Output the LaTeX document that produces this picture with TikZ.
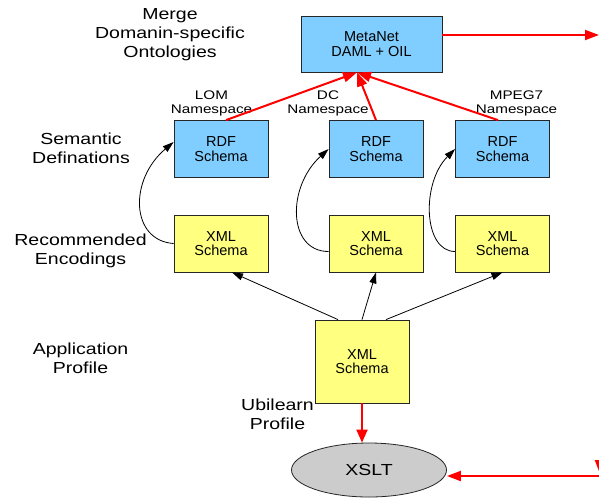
\documentclass[tikz,border=0pt]{standalone}
\usepackage{fontspec}
\setmainfont{Liberation Sans}
\newfontfamily\widefont[FakeStretch=1.22]{Liberation Sans}
\usetikzlibrary{arrows.meta,shapes.geometric}

\begin{document}
\begin{tikzpicture}[x=1pt, y=-1pt,
    box/.style={draw=black!85, line width=0.8pt, minimum width=94pt, minimum height=57pt,
      inner sep=0pt, align=center, font=\fontsize{14.5}{14.5}\selectfont},
    rdfbox/.style={box, fill=rdfblue},
    xmlbox/.style={box, fill=xmlyellow},
    lbl/.style={align=center, font=\widefont\fontsize{16}{19}\selectfont},
    nslbl/.style={align=center, font=\widefont\fontsize{12.5}{14}\selectfont},
    redarrow/.style={red, line width=2pt, -{Triangle[length=14pt,width=10pt]}},
    blkarrow/.style={black, line width=0.8pt, -{Triangle[length=11pt,width=7pt]}}]

      \definecolor{rdfblue}{RGB}{128,206,255}
      \definecolor{xmlyellow}{RGB}{255,255,128}
      \definecolor{xsltgray}{RGB}{204,204,204}

  \fill[white] (0,0) rectangle (599,499);
  \clip (0,0) rectangle (599,499);

  % layer names on the left
  \node[lbl] (merge) at (170,35) {Merge\\Domanin-specific\\Ontologies};
  \node[lbl] (semantic) at (81,148) {Semantic\\Definations};
  \node[lbl] (encodings) at (80.5,251) {Recommended\\Encodings};
  \node[lbl] (appprofile) at (80.5,358) {Application\\Profile};
  \node[lbl] (ubilearn) at (277.5,414) {Ubilearn\\Profile};

  % boxes
  \node[box, fill=rdfblue, minimum width=141pt, minimum height=56pt] (meta) at (371.5,44) {MetaNet\\DAML + OIL};
  \node[rdfbox] (rdf1) at (221,149) {RDF\\Schema};
  \node[rdfbox] (rdf2) at (376,149) {RDF\\Schema};
  \node[rdfbox] (rdf3) at (502.5,149) {RDF\\Schema};
  \node[xmlbox] (xml1) at (221,243.5) {XML\\Schema};
  \node[xmlbox] (xml2) at (376,243.5) {XML\\Schema};
  \node[xmlbox] (xml3) at (502.5,243.5) {XML\\Schema};
  \node[xmlbox, minimum height=83pt] (xmlp) at (362,361.5) {XML\\Schema};
  \node[ellipse, draw=black!85, line width=0.8pt, fill=xsltgray, minimum width=155pt,
    minimum height=54pt, inner sep=0pt, font=\widefont\fontsize{16}{19}\selectfont] (xslt) at (369,470) {XSLT};

  % namespaces
  \node[nslbl] (lomns) at (211.5,103) {LOM\\Namespace};
  \node[nslbl] (dcns) at (328,103) {DC\\Namespace};
  \node[nslbl] (mpegns) at (516.5,103) {MPEG7\\Namespace};

  \coordinate (metaout) at (599,35);
  \coordinate (xsltin) at (599,476);
  \coordinate (feedtop) at (600,420);
  \coordinate (feedtip) at (600,474);

  % merging into MetaNet
  \draw[redarrow] ([xshift=5]rdf1.north) -- ([xshift=-14.5]meta.south);
  \draw[redarrow] (rdf2.north) -- ([xshift=-14.5]meta.south);
  \draw[redarrow] ([xshift=-4.5]rdf3.north) -- ([xshift=-14.5]meta.south);
  \draw[redarrow] (meta.east |- metaout) -- (metaout);

  % encodings to schemas
  \draw[blkarrow] (xml1.west) .. controls +(-43,-3) and +(-45,38) .. ([yshift=7]rdf1.west);
  \draw[blkarrow] ([yshift=-8]xml2.west) .. controls +(-41,0) and +(-42,38) .. (rdf2.west);
  \draw[blkarrow] ([yshift=-8]xml3.west) .. controls +(-32,0) and +(-34,34) .. (rdf3.west);

  % profile
  \draw[blkarrow] ([xshift=-24]xmlp.north) -- ([xshift=11]xml1.south);
  \draw[blkarrow] (xmlp.north) -- (xml2.south);
  \draw[blkarrow] ([xshift=24]xmlp.north) -- (xml3.south);

  % transformation
  \draw[red, line width=2pt, -{Triangle[length=13pt,width=11pt]}] (xmlp.south) -- (xmlp.south |- xslt.north);
  \draw[redarrow] (xsltin) -- (xsltin -| xslt.east);
  \draw[redarrow] (feedtop) -- (feedtip);

\end{tikzpicture}
\end{document}
